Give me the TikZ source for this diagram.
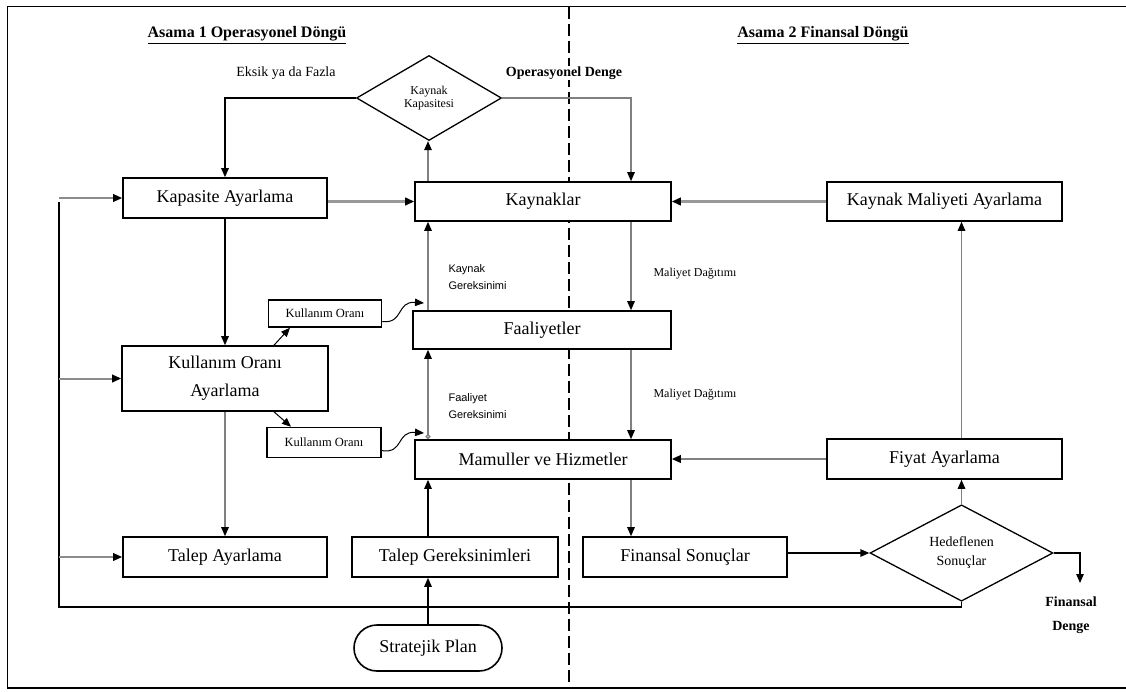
\documentclass[tikz,border=0pt]{standalone}
\usepackage{fontspec}
\setmainfont{Liberation Serif}
\newfontfamily\gersans{Liberation Sans}
\usetikzlibrary{arrows.meta,shapes.geometric}

\begin{document}
\begin{tikzpicture}[x=1pt, y=-1pt,
  kutu/.style = {draw, fill=white, line width=1.6pt, inner sep=0pt, align=center,
                 font=\fontsize{18}{28}\selectfont},
  kucukkutu/.style = {draw, fill=white, line width=1.5pt, inner sep=0pt,
                 font=\fontsize{12.5}{14}\selectfont},
  karar/.style = {draw, fill=white, diamond, line width=1.3pt, inner sep=0pt, align=center},
  ok/.style = {line width=1.3pt, -{Triangle[length=9pt,width=7.5pt,black]}},
  griok/.style = {ok, draw=black!50},
  kalinok/.style = {ok, draw=black!40, line width=3pt},
  cizgi/.style = {line width=1.3pt},
  baslik/.style = {font=\fontsize{16}{18}\selectfont\bfseries},
  etiket/.style = {font=\fontsize{12}{13}\selectfont},
  gerek/.style = {font=\gersans\fontsize{11}{17}\selectfont, anchor=west, align=left}
]
\useasboundingbox (0,0) rectangle (1126,691);

% cerceve ve asama ayraci
\draw[line width=1.8pt] (7.5,6.5) rectangle (1140,688);
\draw[line width=1.2pt, dash pattern=on 12pt off 5pt] (569,6.5) -- (569,688);

% basliklar
\node[baslik] (asama1) at (247,35) {\underline{Asama 1 Operasyonel Döngü}};
\node[baslik] (asama2) at (823,35) {\underline{Asama 2 Finansal Döngü}};

% karar kutulari
\node[karar, minimum width=145pt, minimum height=85pt,
      font=\fontsize{12}{13}\selectfont] (kapasitesi) at (429,98) {Kaynak\\Kapasitesi};
\node[karar, minimum width=183pt, minimum height=91pt,
      font=\fontsize{14}{19}\selectfont] (hedef) at (961.5,553) {Hedeflenen\\Sonuçlar};

% kutular
\path
(225,198) node[kutu, minimum width=204pt, minimum height=40pt] (kapasite) {Kapasite Ayarlama}
(543,201.5) node[kutu, minimum width=256pt, minimum height=39pt] (kaynaklar) {Kaynaklar}
(944.5,201.5) node[kutu, minimum width=235pt, minimum height=39pt] (kma) {Kaynak Maliyeti Ayarlama}
(225,378.5) node[kutu, minimum width=206pt, minimum height=65pt] (kullanim) {Kullanım Oranı\\Ayarlama}
(542,330) node[kutu, minimum width=258pt, minimum height=38pt] (faaliyet) {Faaliyetler}
(543,459.5) node[kutu, minimum width=256pt, minimum height=39pt] (mamul) {Mamuller ve Hizmetler}
(944.5,459) node[kutu, minimum width=235pt, minimum height=40pt] (fiyat) {Fiyat Ayarlama}
(225,557) node[kutu, minimum width=204pt, minimum height=40pt] (talepay) {Talep Ayarlama}
(455,557) node[kutu, minimum width=206pt, minimum height=40pt] (talepger) {Talep Gereksinimleri}
(685,557) node[kutu, minimum width=204pt, minimum height=40pt] (finsonuc) {Finansal Sonuçlar}
(428,648) node[kutu, minimum width=148pt, minimum height=46pt, rounded corners=23pt] (stratejik) {Stratejik Plan};

\path
(325,313.5) node[kucukkutu, minimum width=113pt, minimum height=27pt] (oran1) {Kullanım Oranı}
(324,442.5) node[kucukkutu, minimum width=114pt, minimum height=30pt] (oran2) {Kullanım Oranı};

% etiketler
\node[font=\fontsize{14}{16}\selectfont] (eksik) at (286,73) {Eksik ya da Fazla};
\node[font=\fontsize{14}{16}\selectfont\bfseries, fill=white, inner sep=1pt] (opdenge) at (564,73) {Operasyonel Denge};
\node[gerek] (kgerek) at (445,277) {Kaynak\\Gereksinimi};
\node[gerek] (fgerek) at (445,406) {Faaliyet\\Gereksinimi};
\node[etiket] (dagitim1) at (695,274) {Maliyet Dağıtımı};
\node[etiket] (dagitim2) at (695,395) {Maliyet Dağıtımı};
\node[font=\fontsize{14}{24}\selectfont\bfseries, align=center] (fdenge) at (1071,615) {Finansal\\Denge};

% yardimci noktalar
\coordinate (sagkolon) at (631,98);
\coordinate (geri) at (59,607);
\coordinate (dengeuc) at (1080,583);
\coordinate (giris1) at (424,303);
\coordinate (giris2) at (424,433);

% operasyonel dongu
\draw[ok] (kapasitesi.west) -| (kapasite.north);
\draw[griok] (kapasitesi.east) -| (kaynaklar.north -| sagkolon);
\draw[griok] (kaynaklar.north -| stratejik) -- (kapasitesi.south -| stratejik);
\draw[ok] (kapasite.south) -- (kullanim.north);
\draw[griok] (kullanim.south) -- (talepay.north);
\draw[kalinok] (kapasite.east |- kaynaklar) -- (kaynaklar.west);
\draw[griok] (faaliyet.north -| stratejik) -- (kaynaklar.south -| stratejik);
\draw[griok, {Circle[open,length=5pt,width=5pt]}-{Triangle[length=9pt,width=7.5pt,black]}]
  (mamul.north -| stratejik) -- (faaliyet.south -| stratejik);
\draw[ok] (talepger.north -| stratejik) -- (mamul.south -| stratejik);
\draw[ok] (stratejik.north) -- (talepger.south -| stratejik);

% kullanim orani
\draw[ok, line width=1pt] ([xshift=49pt]kullanim.north) -- ([xshift=-35pt]oran1.south);
\draw[ok, line width=1pt] ([xshift=49pt]kullanim.south) -- ([xshift=-33pt]oran2.north);
\draw[ok, line width=1pt] (oran1.-8) .. controls (404,324) and (396,301) .. (giris1);
\draw[ok, line width=1pt] (oran2.-8) .. controls (404,454) and (396,431) .. (giris2);

% finansal dongu
\draw[griok] (kaynaklar.south -| sagkolon) -- (faaliyet.north -| sagkolon);
\draw[griok] (faaliyet.south -| sagkolon) -- (mamul.north -| sagkolon);
\draw[griok] (mamul.south -| sagkolon) -- (finsonuc.north -| sagkolon);
\draw[ok] (finsonuc.east |- hedef.west) -- (hedef.west);
\draw[griok] (hedef.north) -- (fiyat.south -| hedef.north);
\draw[griok] (fiyat.north -| hedef.north) -- (kma.south -| hedef.north);
\draw[griok, line width=2pt] (fiyat.west) -- (mamul.east |- fiyat.west);
\draw[kalinok] (kma.west) -- (kaynaklar.east);
\draw[ok] (hedef.east) -| (dengeuc);

% geri besleme
\draw[cizgi] (hedef.south) |- (geri) -- (geri |- kaynaklar);
\foreach \ayar in {kapasite, kullanim, talepay}
  {
    \draw[ok, draw=black!45, line width=2pt] (geri |- \ayar.west) -- (\ayar.west);
  }

\end{tikzpicture}
\end{document}
